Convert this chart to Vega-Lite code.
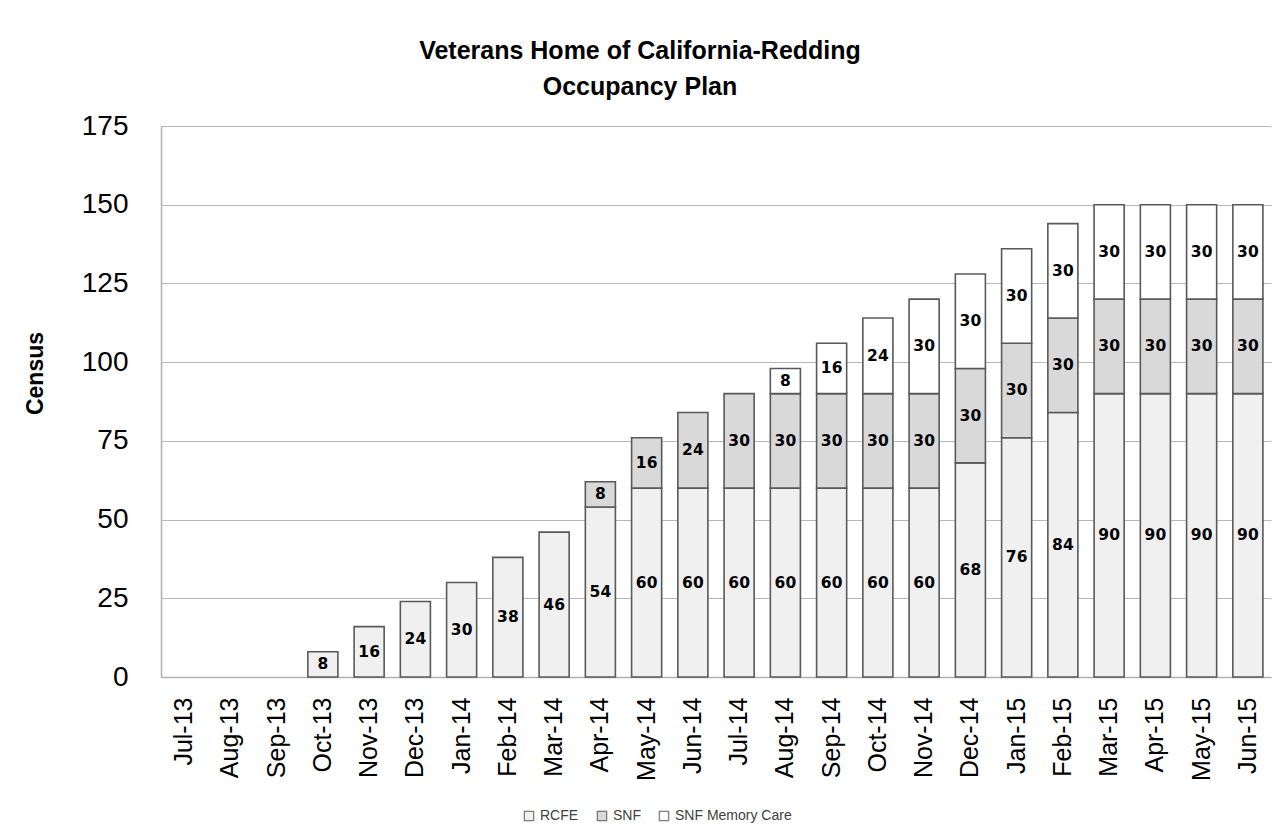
{
  "$schema": "https://vega.github.io/schema/vega-lite/v6.json",
  "width": 1110,
  "height": 551,
  "autosize": {"type": "none"},
  "padding": {"left": 161, "top": 126, "right": 12, "bottom": 156},
  "background": "white",
  "title": {
    "text": ["Veterans Home of California-Redding", "Occupancy Plan"],
    "font": "Liberation Sans",
    "fontSize": 25,
    "fontWeight": "bold",
    "color": "black",
    "anchor": "middle",
    "frame": "group",
    "dx": -76,
    "lineHeight": 36,
    "offset": 12
  },
  "config": {
    "view": {"stroke": null},
    "axis": {"grid": false}
  },
  "data": {
    "values": [
      {"m": "Jul-13", "c": "RCFE", "v": 0}, {"m": "Aug-13", "c": "RCFE", "v": 0}, {"m": "Sep-13", "c": "RCFE", "v": 0},
      {"m": "Oct-13", "c": "RCFE", "v": 8}, {"m": "Nov-13", "c": "RCFE", "v": 16}, {"m": "Dec-13", "c": "RCFE", "v": 24},
      {"m": "Jan-14", "c": "RCFE", "v": 30}, {"m": "Feb-14", "c": "RCFE", "v": 38}, {"m": "Mar-14", "c": "RCFE", "v": 46},
      {"m": "Apr-14", "c": "RCFE", "v": 54}, {"m": "May-14", "c": "RCFE", "v": 60}, {"m": "Jun-14", "c": "RCFE", "v": 60},
      {"m": "Jul-14", "c": "RCFE", "v": 60}, {"m": "Aug-14", "c": "RCFE", "v": 60}, {"m": "Sep-14", "c": "RCFE", "v": 60},
      {"m": "Oct-14", "c": "RCFE", "v": 60}, {"m": "Nov-14", "c": "RCFE", "v": 60}, {"m": "Dec-14", "c": "RCFE", "v": 68},
      {"m": "Jan-15", "c": "RCFE", "v": 76}, {"m": "Feb-15", "c": "RCFE", "v": 84}, {"m": "Mar-15", "c": "RCFE", "v": 90},
      {"m": "Apr-15", "c": "RCFE", "v": 90}, {"m": "May-15", "c": "RCFE", "v": 90}, {"m": "Jun-15", "c": "RCFE", "v": 90},
      {"m": "Apr-14", "c": "SNF", "v": 8}, {"m": "May-14", "c": "SNF", "v": 16}, {"m": "Jun-14", "c": "SNF", "v": 24},
      {"m": "Jul-14", "c": "SNF", "v": 30}, {"m": "Aug-14", "c": "SNF", "v": 30}, {"m": "Sep-14", "c": "SNF", "v": 30},
      {"m": "Oct-14", "c": "SNF", "v": 30}, {"m": "Nov-14", "c": "SNF", "v": 30}, {"m": "Dec-14", "c": "SNF", "v": 30},
      {"m": "Jan-15", "c": "SNF", "v": 30}, {"m": "Feb-15", "c": "SNF", "v": 30}, {"m": "Mar-15", "c": "SNF", "v": 30},
      {"m": "Apr-15", "c": "SNF", "v": 30}, {"m": "May-15", "c": "SNF", "v": 30}, {"m": "Jun-15", "c": "SNF", "v": 30},
      {"m": "Aug-14", "c": "SNF Memory Care", "v": 8}, {"m": "Sep-14", "c": "SNF Memory Care", "v": 16},
      {"m": "Oct-14", "c": "SNF Memory Care", "v": 24}, {"m": "Nov-14", "c": "SNF Memory Care", "v": 30},
      {"m": "Dec-14", "c": "SNF Memory Care", "v": 30}, {"m": "Jan-15", "c": "SNF Memory Care", "v": 30},
      {"m": "Feb-15", "c": "SNF Memory Care", "v": 30}, {"m": "Mar-15", "c": "SNF Memory Care", "v": 30},
      {"m": "Apr-15", "c": "SNF Memory Care", "v": 30}, {"m": "May-15", "c": "SNF Memory Care", "v": 30},
      {"m": "Jun-15", "c": "SNF Memory Care", "v": 30}
    ]
  },
  "transform": [
    {"stack": "v", "groupby": ["m"], "sort": [{"field": "c", "order": "ascending"}], "as": ["y0", "y1"]},
    {"calculate": "(datum.y0 + datum.y1) / 2", "as": "mid"}
  ],
  "encoding": {
    "x": {
      "field": "m",
      "type": "nominal",
      "sort": ["Jul-13","Aug-13","Sep-13","Oct-13","Nov-13","Dec-13","Jan-14","Feb-14","Mar-14","Apr-14","May-14","Jun-14","Jul-14","Aug-14","Sep-14","Oct-14","Nov-14","Dec-14","Jan-15","Feb-15","Mar-15","Apr-15","May-15","Jun-15"],
      "scale": {"paddingInner": 0.35, "paddingOuter": 0.175},
      "axis": {
        "title": null,
        "labelAngle": -90,
        "labelAlign": "right",
        "labelBaseline": "middle",
        "labelFont": "Liberation Sans",
        "labelFontSize": 25,
        "labelColor": "black",
        "labelPadding": 20,
        "ticks": false,
        "domainColor": "#b0b0b0",
        "domainWidth": 1.5
      }
    }
  },
  "layer": [
    {
      "mark": {"type": "bar", "stroke": "#595959", "strokeWidth": 1.6},
      "encoding": {
        "y": {
          "field": "y0",
          "type": "quantitative",
          "scale": {"domain": [0, 175], "nice": false},
          "axis": {
            "title": "Census",
            "titleFont": "Liberation Sans",
            "titleFontSize": 23,
            "titleFontWeight": "bold",
            "titleColor": "black",
            "titleAngle": -90,
            "titleX": -126,
            "titleY": 247,
            "titleAlign": "center",
            "titleBaseline": "middle",
            "values": [0, 25, 50, 75, 100, 125, 150, 175],
            "grid": true,
            "gridColor": "#b8b8b8",
            "gridWidth": 1,
            "labelFont": "Liberation Sans",
            "labelFontSize": 28,
            "labelColor": "black",
            "labelPadding": 33,
            "ticks": false,
            "domainColor": "#b0b0b0",
            "domainWidth": 1.5
          }
        },
        "y2": {"field": "y1"},
        "opacity": {
          "condition": {"test": "datum.v > 0", "value": 1},
          "value": 0
        },
        "fill": {
          "field": "c",
          "type": "nominal",
          "scale": {"domain": ["RCFE", "SNF", "SNF Memory Care"], "range": ["#f0f0f0", "#d9d9d9", "#ffffff"]},
          "legend": {
            "title": null,
            "orient": "none",
            "direction": "horizontal",
            "legendX": 361,
            "legendY": 683,
            "symbolType": "square",
            "symbolSize": 90,
            "symbolStrokeColor": "#595959",
            "symbolStrokeWidth": 1,
            "symbolOpacity": 1,
            "labelFont": "Liberation Sans",
            "labelFontSize": 14,
            "labelColor": "#404040",
            "labelOffset": 4,
            "columnPadding": 16
          }
        }
      }
    },
    {
      "transform": [{"filter": "datum.v > 0"}],
      "mark": {"type": "text", "font": "DejaVu Sans", "fontWeight": "bold", "fontSize": 15.5, "color": "black", "baseline": "middle", "align": "center"},
      "encoding": {
        "y": {"field": "mid", "type": "quantitative"},
        "text": {"field": "v", "type": "quantitative"}
      }
    }
  ]
}
